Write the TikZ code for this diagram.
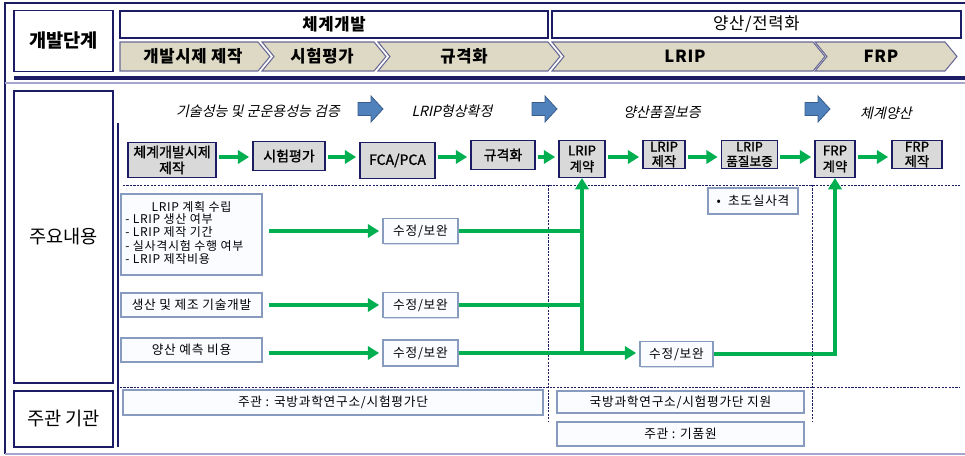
\documentclass[tikz,border=0pt]{standalone}
\usepackage{fontspec}
\setmainfont{Noto Sans CJK KR}
\newfontfamily\krit[FakeSlant=0.22]{Noto Sans CJK KR}
\newfontfamily\krsp[LetterSpace=6]{Noto Sans CJK KR}
\newfontfamily\krsb[FakeBold=1.2]{Noto Sans CJK KR}
\newfontfamily\krbsp[LetterSpace=4]{Noto Sans CJK KR}
\usetikzlibrary{arrows.meta,shadows}
\definecolor{navy}{RGB}{28,28,100}
\definecolor{chevfill}{RGB}{221,217,196}
\definecolor{chevline}{RGB}{105,105,150}
\definecolor{grayfill}{RGB}{217,217,217}
\definecolor{grn}{RGB}{0,176,80}
\definecolor{bluefill}{RGB}{79,129,189}
\definecolor{blueline}{RGB}{56,93,138}
\definecolor{lightline}{RGB}{135,155,190}
\definecolor{lightfill}{RGB}{250,252,255}
\definecolor{lav}{RGB}{165,165,205}
\begin{document}
\begin{tikzpicture}[x=0.75pt,y=-0.75pt,
  sz/.style 2 args={minimum width=#1*0.75pt, minimum height=#2*0.75pt},
  lbox/.style={draw=navy, line width=0.8pt, fill=white, inner sep=0pt},
  chevst/.style={draw=chevline, line width=0.8pt, fill=chevfill},
  chevtxt/.style={font=\krbsp\fontsize{12.5}{14}\selectfont\bfseries, inner sep=0pt},
  gbox/.style={draw=navy, line width=0.8pt, fill=grayfill, inner sep=0pt, align=center,
     font=\krsb\fontsize{10.5}{12}\selectfont},
  wbox/.style={draw=lightline, line width=0.8pt, fill=lightfill, inner sep=0pt, align=center,
     font=\krsp\fontsize{9.5}{11}\selectfont, drop shadow={shadow xshift=0.8pt, shadow yshift=-0.8pt, fill=lightline!60, opacity=0.6}},
  dsh/.style={draw=navy, line width=0.5pt, dash pattern=on 1.6pt off 1pt},
  phase/.style={font=\krit\fontsize{10.5}{12}\selectfont, inner sep=0pt},
  gline/.style={draw=grn, line width=2.8pt},
  garr/.style={draw=grn, line width=2.8pt, -{Triangle[length=8.5pt,width=10pt]}},
  barr/.pic={\filldraw[fill=bluefill, draw=blueline, line width=0.6pt]
     (-12,-6.5) -- (1,-6.5) -- (1,-13) -- (13,0) -- (1,13) -- (1,6.5) -- (-12,6.5) -- cycle;}
]
\useasboundingbox (0,0) rectangle (965,456);

% ---------- frame ----------
\draw[navy, line width=0.8pt] (965,3) -- (5,3) -- (5,454);
\draw[navy, line width=2.4pt] (14,78) -- (965,78);
\draw[lav, line width=0.9pt] (5,83) -- (965,83);
\draw[lav, line width=0.9pt] (5,454) -- (965,454);

% ---------- top section ----------
\node[lbox, sz={99}{61}, font=\fontsize{14}{16}\selectfont\bfseries] (stage) at (63.5,41) {개발단계};
\node[lbox, sz={428}{27}, font=\krbsp\fontsize{12.5}{14}\selectfont\bfseries] (dev) at (334,24.5) {체계개발};
\node[lbox, sz={409}{27}, font=\krbsp\fontsize{12.5}{14}\selectfont] (mass) at (756.5,24.5) {양산/전력화};

\draw[chevst] (120,42) -- (258,42) -- (270,56.5) -- (258,71) -- (120,71) -- cycle;
\node[chevtxt] (ch1) at (193,56.5) {개발시제 제작};
\draw[chevst] (262,42) -- (374,42) -- (386,56.5) -- (374,71) -- (262,71) -- (274,56.5) -- cycle;
\node[chevtxt] (ch2) at (322,56.5) {시험평가};
\draw[chevst] (378,42) -- (548,42) -- (560,56.5) -- (548,71) -- (378,71) -- (390,56.5) -- cycle;
\node[chevtxt] (ch3) at (464,56.5) {규격화};
\draw[chevst] (552,42) -- (813,42) -- (825,56.5) -- (813,71) -- (552,71) -- (564,56.5) -- cycle;
\node[chevtxt] (ch4) at (685,56.5) {LRIP};
\draw[chevst] (815,42) -- (945,42) -- (957,56.5) -- (945,71) -- (815,71) -- (827,56.5) -- cycle;
\node[chevtxt] (ch5) at (881,56.5) {FRP};

% ---------- left labels ----------
\node[lbox, sz={99}{292}, font=\fontsize{14}{16}\selectfont] (content) at (63.5,237) {주요내용};
\node[lbox, sz={99}{56}, font=\fontsize{14}{16}\selectfont] (org) at (63.5,419) {주관 기관};
\draw[navy, line width=2.2pt] (118,123) -- (118,447);

% ---------- dashed grid ----------
\draw[dsh] (123,185) -- (960,185);
\draw[dsh] (120,387) -- (960,387);
\draw[dsh] (548,185) -- (548,422);
\draw[dsh] (812,185) -- (812,422);

% ---------- phase titles ----------
\node[phase] (p1) at (258,111) {기술성능 및 군운용성능 검증};
\pic at (370,109) {barr};
\node[phase] (p2) at (452,111) {LRIP형상확정};
\pic at (544,109) {barr};
\node[phase] (p3) at (662,112) {양산품질보증};
\pic at (817,109) {barr};
\node[phase] (p4) at (886,113) {체계양산};

% ---------- row 1 ----------
\node[gbox, sz={88}{35}, anchor=north] (b1) at (172,142) {체계개발시제\\제작};
\node[gbox, sz={72}{29}, anchor=north] (b2) at (289,141) {시험평가};
\node[gbox, sz={75}{36}, anchor=north] (b3) at (397.5,142) {FCA/PCA};
\node[gbox, sz={64}{29}, anchor=north] (b4) at (503,140) {규격화};
\node[gbox, sz={46}{37}, anchor=north, font=\krsb\fontsize{10}{12}\selectfont] (b5) at (582,140) {LRIP\\계약};
\node[gbox, sz={42}{28}, anchor=north, font=\krsb\fontsize{10}{11}\selectfont] (b6) at (664,140) {LRIP\\제작};
\node[gbox, sz={56}{28}, anchor=north, font=\krsb\fontsize{9.5}{11}\selectfont] (b7) at (749.5,140) {LRIP\\품질보증};
\node[gbox, sz={40}{37}, anchor=north, font=\krsb\fontsize{10}{12}\selectfont] (b8) at (835,140) {FRP\\계약};
\node[gbox, sz={50}{28}, anchor=north, font=\krsb\fontsize{10}{11}\selectfont] (b9) at (917,140) {FRP\\제작};

\foreach \a/\b in {b1/b2,b2/b3,b3/b4,b4/b5,b5/b6,b6/b7,b7/b8,b8/b9}{
  \draw[garr, shorten <=1.5pt, shorten >=2.5pt] (\a.east |- 0,157) -- (\b.west |- 0,157);
}

% ---------- rows 2-4 ----------
\node[wbox, sz={141}{81}] (l1) at (191.5,234.5) {};
\node[font=\krsp\fontsize{9}{10}\selectfont, inner sep=0pt] (l1t) at (191.5,207) {LRIP 계획 수립};
\node[font=\krsp\fontsize{9}{10.2}\selectfont, inner sep=0pt, anchor=north west, align=left] (l1l) at (125,213)
  {- LRIP 생산 여부\\- LRIP 제작 기간\\- 실사격시험 수행 여부\\- LRIP 제작비용};
\node[wbox, sz={141}{24}] (l2) at (191.5,305) {생산 및 제조 기술개발};
\node[wbox, sz={141}{24}] (l3) at (191.5,350) {양산 예측 비용};

\node[wbox, sz={75}{25}] (s1) at (420.5,231) {수정/보완};
\node[wbox, sz={75}{25}] (s2) at (420.5,305) {수정/보완};
\node[wbox, sz={75}{26}] (s3) at (420.5,353) {수정/보완};
\node[wbox, sz={73}{25}] (s4) at (676.5,354) {수정/보완};
\node[wbox, sz={90}{26}] (ini) at (753,201) {•\; 초도실사격};

\draw[garr, shorten <=5pt, shorten >=2.5pt] (l1.east |- s1.west) -- (s1.west);
\draw[garr, shorten <=5pt, shorten >=2.5pt] (l2.east) -- (s2.west);
\draw[garr, shorten <=5pt, shorten >=2.5pt] (l3.east |- s3.west) -- (s3.west);
\draw[gline] (s1.east) -- (s1.east -| b5.south);
\draw[gline] (s2.east) -- (s2.east -| b5.south);
\draw[garr, shorten >=2.5pt] (s3.east) -- (s4.west |- s3.east);
\draw[garr] ([yshift=-1.4pt]s3.east -| b5.south) -- (b5.south);
\draw[garr] (s4.east) -- (s4.east -| b8.south) -- (b8.south);

% ---------- bottom ----------
\node[wbox, sz={420}{25}] (m1) at (333,402.5) {주관 : 국방과학연구소/시험평가단};
\node[wbox, sz={247}{22}] (m2) at (680.5,402) {국방과학연구소/시험평가단 지원};
\node[wbox, sz={247}{24}] (m3) at (680.5,434) {주관 : 기품원};
\end{tikzpicture}
\end{document}
